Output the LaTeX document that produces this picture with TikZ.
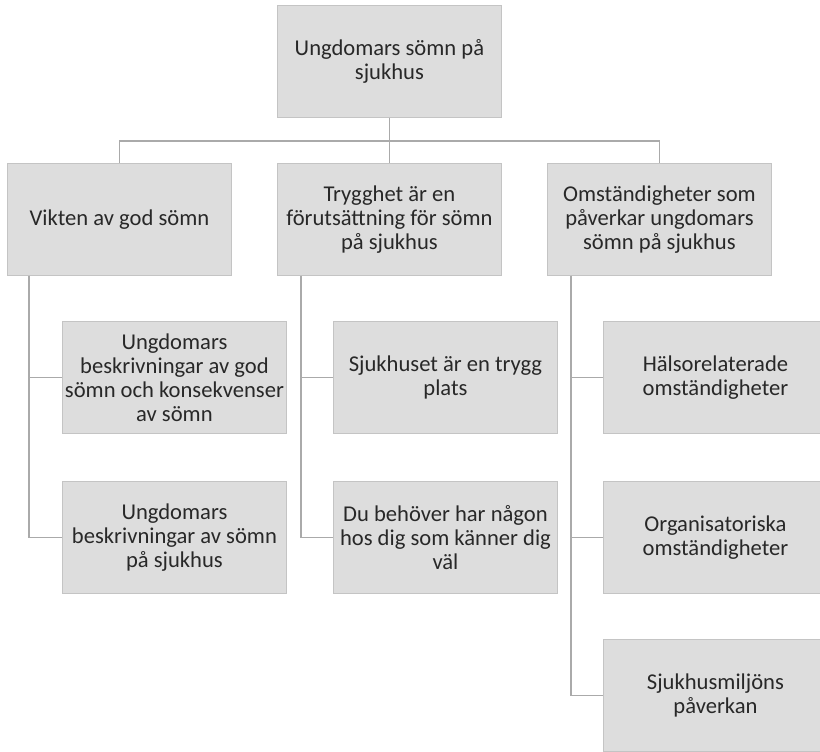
\documentclass[tikz,border=0pt]{standalone}
\usepackage{fontspec}
\setmainfont{Carlito}
\definecolor{boxfill}{RGB}{221,221,221}
\definecolor{boxdraw}{RGB}{196,196,196}
\definecolor{conn}{RGB}{170,170,170}
\definecolor{txt}{RGB}{40,40,40}
\tikzset{
  box/.style={draw=boxdraw, line width=0.9pt, fill=boxfill, anchor=north west,
    minimum width=224pt, minimum height=112pt, inner sep=2pt, align=center,
    text=txt, font=\fontsize{22.6}{24}\selectfont},
  link/.style={draw=conn, line width=1.6pt}
}
\begin{document}
\begin{tikzpicture}[x=1pt,y=-1pt]
\useasboundingbox (0,0) rectangle (820,752);
\clip (0,0) rectangle (820,752);
\node[box] (top) at (277,5) {Ungdomars sömn på\\sjukhus};
\node[box] (l1) at (7,163) {Vikten av god sömn};
\node[box] (l2) at (277,163) {Trygghet  är en\\förutsättning för sömn\\på sjukhus};
\node[box] (l3) at (547,163) {Omständigheter som\\påverkar ungdomars\\sömn på sjukhus};
\node[box] (c11) at (62,321) {Ungdomars\\beskrivningar av god\\sömn och konsekvenser\\av sömn};
\node[box] (c12) at (62,481) {Ungdomars\\beskrivningar av sömn\\på sjukhus};
\node[box] (c21) at (333,321) {Sjukhuset är en trygg\\plats};
\node[box] (c22) at (333,481) {Du behöver  har någon\\hos dig som känner dig\\väl};
\node[box] (c31) at (603,321) {Hälsorelaterade\\omständigheter};
\node[box] (c32) at (603,481) {Organisatoriska\\omständigheter};
\node[box] (c33) at (603,639) {Sjukhusmiljöns\\påverkan};
\coordinate (j) at ([yshift=-23pt]top.south);
\draw[link] (top.south) -- (j);
\draw[link] (j) -| (l1.north);
\draw[link] (j) -| (l3.north);
\draw[link] (j) -- (l2.north);
\draw[link] ([xshift=22pt]l1.south west) |- (c11.west);
\draw[link] ([xshift=22pt]l1.south west) |- (c12.west);
\draw[link] ([xshift=24pt]l2.south west) |- (c21.west);
\draw[link] ([xshift=24pt]l2.south west) |- (c22.west);
\draw[link] ([xshift=24pt]l3.south west) |- (c31.west);
\draw[link] ([xshift=24pt]l3.south west) |- (c32.west);
\draw[link] ([xshift=24pt]l3.south west) |- (c33.west);
\end{tikzpicture}
\end{document}
